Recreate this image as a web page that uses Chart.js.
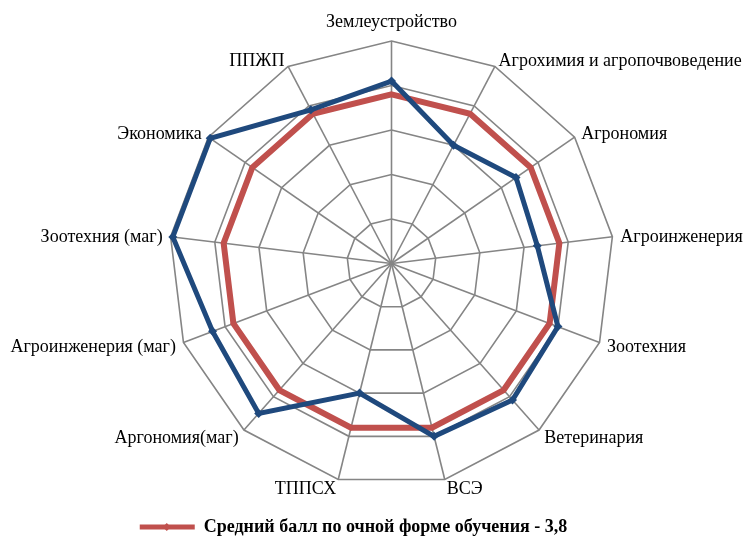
<!DOCTYPE html>
<html><head><meta charset="utf-8">
<script src="https://cdn.jsdelivr.net/npm/chart.js@4/dist/chart.umd.min.js"></script>
<style>html,body{margin:0;padding:0;background:#fff}#wrap{width:745px;height:537px}</style>
</head><body><div id="wrap"><canvas id="c" width="745" height="537"></canvas></div>
<script>
const categories = ['Землеустройство','Агрохимия и агропочвоведение','Агрономия','Агроинженерия','Зоотехния','Ветеринария','ВСЭ','ТППСХ','Аргономия(маг)','Агроинженерия (маг)','Зоотехния (маг)','Экономика','ППЖП'];
const avgLabel = 'Средний балл по очной форме обучения - 3,8';
const avgValues = [3.8,3.8,3.8,3.8,3.8,3.8,3.8,3.8,3.8,3.8,3.8,3.8,3.8];
const specLabel = 'Средний балл по направлению';
const specValues = [4.1,3.0,3.4,3.3,4.0,4.1,4.0,3.0,4.5,4.3,4.95,4.95,3.9];
const scaleMin = 0, scaleMax = 5, scaleStep = 1;

const FONT = "'Liberation Serif','Times New Roman',serif";
const RED = '#C0504D', BLUE = '#1F497D', GRID = '#858585';

const labelPlugin = {
  id: 'labels',
  afterDraw(chart) {
    const s = chart.scales.r, ctx = chart.ctx;
    ctx.save();
    ctx.font = '18px ' + FONT;
    ctx.fillStyle = '#000';
    categories.forEach((t, i) => {
      const top = i === 0;
      const p = s.getPointPosition(i, s.drawingArea + (top ? 14 : 8));
      const dx = p.x - s.xCenter;
      if (Math.abs(dx) < 2) { ctx.textAlign = 'center'; ctx.textBaseline = 'alphabetic'; }
      else { ctx.textAlign = dx > 0 ? 'left' : 'right'; ctx.textBaseline = 'middle'; }
      ctx.fillText(t, p.x, p.y + (top ? 0 : 2));
    });
    const lg = chart.legend;
    if (lg && lg.legendHitBoxes && lg.legendHitBoxes[0]) {
      const b = lg.legendHitBoxes[0];
      const cx = b.left + 27, cy = b.top + b.height / 2;
      ctx.fillStyle = RED;
      ctx.beginPath();
      ctx.moveTo(cx, cy - 4); ctx.lineTo(cx + 4, cy); ctx.lineTo(cx, cy + 4); ctx.lineTo(cx - 4, cy);
      ctx.closePath(); ctx.fill();
    }
    ctx.restore();
  }
};

new Chart(document.getElementById('c'), {
  type: 'radar',
  data: {
    labels: categories,
    datasets: [
      { label: specLabel, data: specValues, borderColor: BLUE, backgroundColor: BLUE, borderWidth: 5,
        pointStyle: 'rectRot', pointRadius: 4.5, pointBackgroundColor: BLUE, pointBorderColor: BLUE, pointBorderWidth: 0,
        fill: false, order: 0 },
      { label: avgLabel, data: avgValues, borderColor: RED, backgroundColor: RED, borderWidth: 6,
        pointStyle: 'rectRot', pointRadius: 3, pointBackgroundColor: RED, pointBorderColor: RED, pointBorderWidth: 0,
        fill: false, order: 1 }
    ]
  },
  options: {
    responsive: false,
    devicePixelRatio: 1,
    animation: false,
    layout: { padding: { left: 0, right: 38, top: 0, bottom: -9 } },
    elements: { line: { tension: 0 } },
    plugins: {
      tooltip: { enabled: false },
      legend: {
        position: 'bottom',
        labels: {
          filter: (item) => item.text === avgLabel,
          usePointStyle: true,
          pointStyle: 'line',
          pointStyleWidth: 55,
          boxHeight: 6,
          padding: 1,
          color: '#000',
          font: { family: FONT, size: 18, weight: 'bold' },
          generateLabels: (chart) => chart.data.datasets.map((d, i) => ({
            text: d.label, fillStyle: d.borderColor, strokeStyle: d.borderColor, lineWidth: 5,
            pointStyle: 'line', datasetIndex: i, hidden: false
          }))
        }
      }
    },
    scales: {
      r: {
        min: scaleMin, max: scaleMax,
        ticks: { display: false, stepSize: scaleStep },
        grid: { color: GRID, lineWidth: 1.6, circular: false },
        angleLines: { color: GRID, lineWidth: 1.6 },
        pointLabels: { display: false },
        beforeFit: (scale) => {
          scale.setCenterPoint = function () {
            this.xCenter = 391.5; this.yCenter = 263.5; this.drawingArea = 222.5;
          };
        }
      }
    }
  },
  plugins: [labelPlugin]
});
</script>
</body></html>
